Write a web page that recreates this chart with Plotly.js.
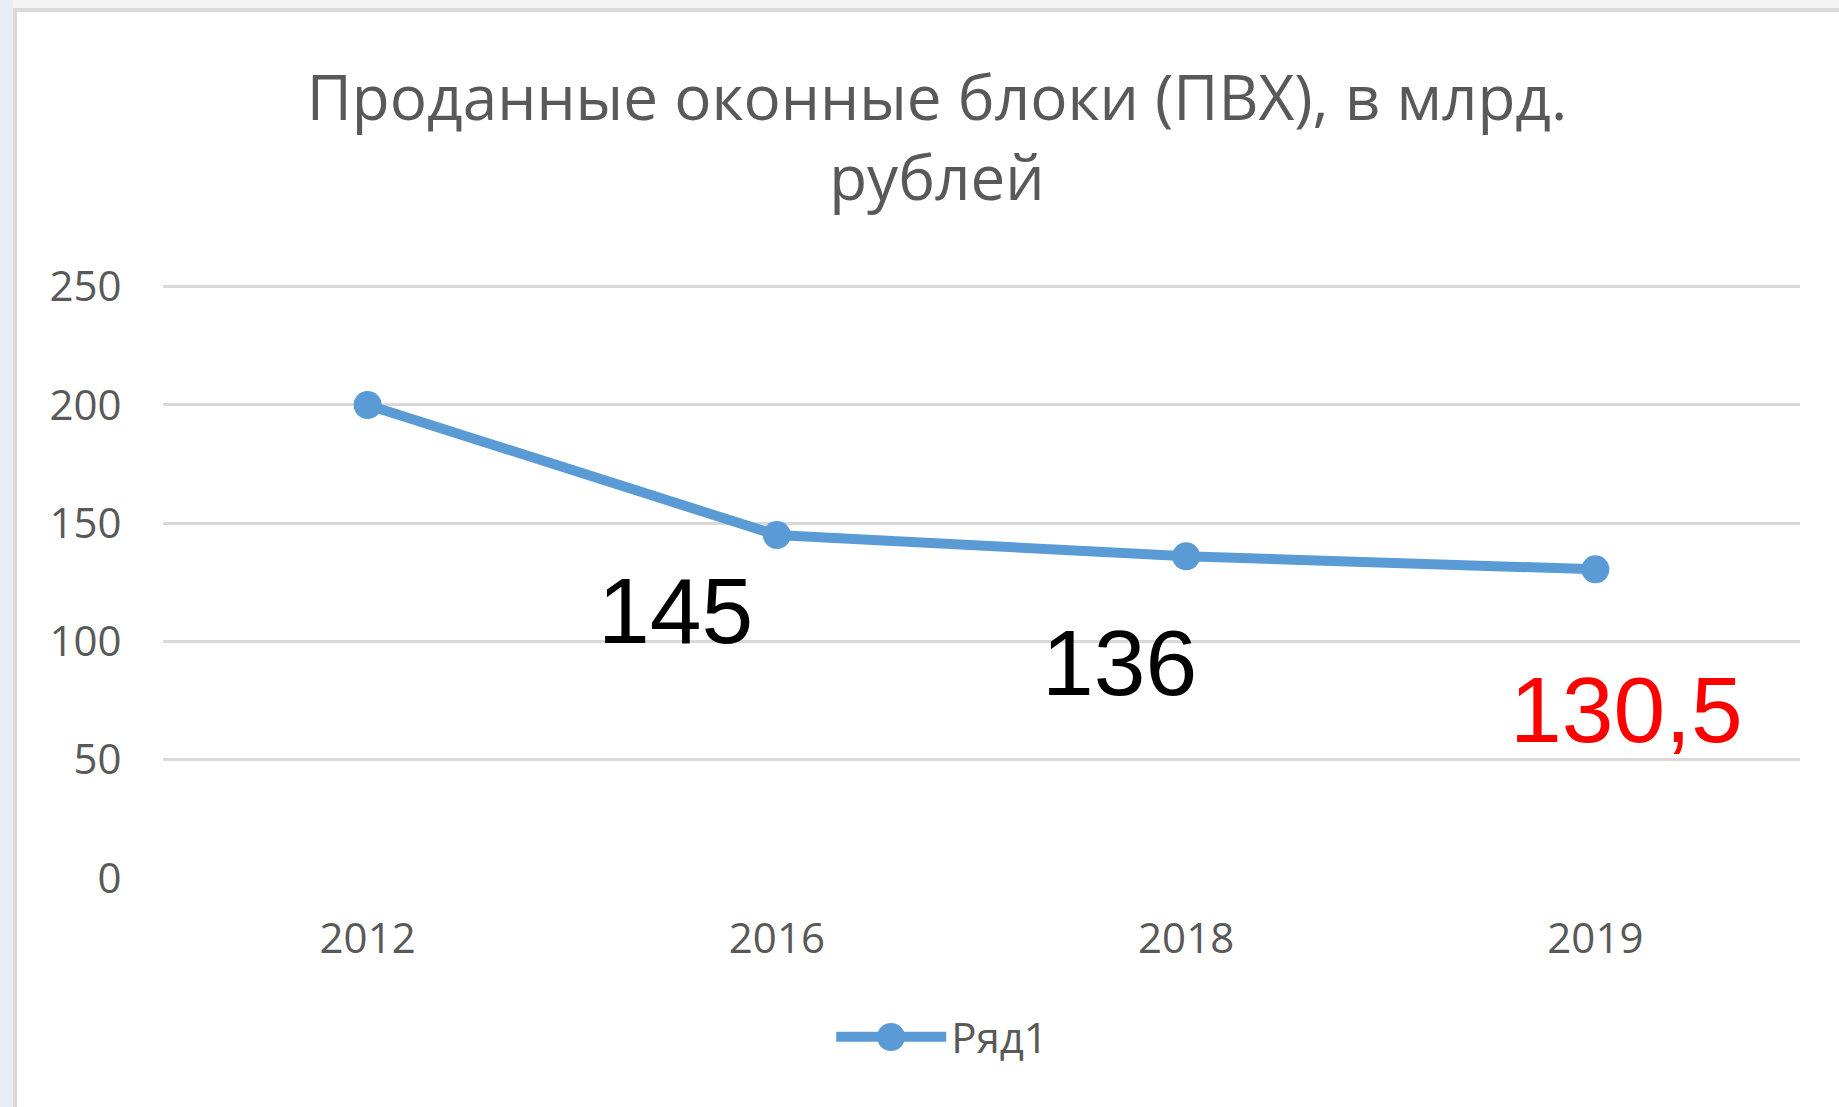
<!DOCTYPE html>
<html>
<head>
<meta charset="utf-8">
<script src="https://cdn.plot.ly/plotly-3.0.1.min.js"></script>
<style>
  html, body { margin: 0; padding: 0; width: 1839px; height: 1107px; overflow: hidden; background: #e7ecf5; }
  #topstrip { position: absolute; left: 13px; top: 0; width: 1826px; height: 8px; background: #f3f3f3; }
  #frame { position: absolute; left: 13px; top: 8px; width: 1822px; height: 1095px; background: #ffffff;
           border-left: 4px solid #d9d9d9; border-top: 4px solid #d9d9d9; }
  #chart { position: absolute; left: 0; top: 0; width: 1839px; height: 1107px; }
</style>
</head>
<body>
<div id="topstrip"></div>
<div id="frame"></div>
<div id="chart"></div>
<script>
const titleText = 'Проданные оконные блоки (ПВХ), в млрд.<br>рублей';
const seriesName = 'Ряд1';
const years = ['2012', '2016', '2018', '2019'];
const values = [200, 145, 136, 130.5];
const yTicks = [0, 50, 100, 150, 200, 250];

// data labels shown in the chart (index into years/values), with their text
const labelIndex = [1, 2, 3];
const labelText = ['145', '136', '130,5'];
const labelColor = ['#000000', '#000000', '#ff0000'];
const labelShiftX = [-101, -67, 31];
const labelShiftY = [-76, -107, -141];

const trace = {
  type: 'scatter',
  mode: 'lines+markers',
  name: seriesName,
  x: years,
  y: values,
  line: { color: '#5b9bd5', width: 10 },
  marker: { color: '#5b9bd5', size: 28 },
  hoverinfo: 'x+y'
};

const annotations = labelIndex.map((idx, i) => ({
  x: idx,
  y: values[idx],
  xref: 'x', yref: 'y',
  text: labelText[i],
  showarrow: false,
  xanchor: 'center', yanchor: 'middle',
  xshift: labelShiftX[i],
  yshift: labelShiftY[i],
  font: { family: 'Liberation Sans', size: 93, color: labelColor[i] }
}));

// plot area geometry (px) used only to place the legend marker overlay
const PL = 163, PW = 1637, PT = 282, PH = 596;
const legMarkX = 891, legMarkY = 1037, legMarkR = 14;

const layout = {
  width: 1839,
  height: 1107,
  paper_bgcolor: 'rgba(0,0,0,0)',
  plot_bgcolor: 'rgba(0,0,0,0)',
  margin: { l: PL, r: 1839 - PL - PW, t: PT, b: 1107 - PT - PH, pad: 0 },
  title: {
    text: titleText,
    font: { family: 'Open Sans, sans-serif', size: 62, color: '#595959' },
    x: 0.5095, xref: 'container', xanchor: 'center',
    y: 0.892, yref: 'container', yanchor: 'top'
  },
  xaxis: {
    type: 'category',
    range: [-0.5, 3.5],
    showgrid: false,
    zeroline: false,
    showline: false,
    ticks: 'outside', ticklen: 24, tickcolor: 'rgba(0,0,0,0)',
    tickfont: { family: 'Open Sans, sans-serif', size: 42, color: '#595959' },
    fixedrange: true
  },
  yaxis: {
    range: [0, 252],
    tickvals: yTicks,
    ticktext: yTicks.map(String),
    showgrid: true,
    gridcolor: '#d9d9d9',
    gridwidth: 3,
    zeroline: false,
    showline: false,
    ticks: 'outside', ticklen: 32, tickcolor: 'rgba(0,0,0,0)',
    tickfont: { family: 'Open Sans, sans-serif', size: 42, color: '#595959' },
    fixedrange: true
  },
  showlegend: true,
  legend: {
    orientation: 'h',
    x: 0.476, xanchor: 'center',
    y: (PT + PH - 1037) / PH, yanchor: 'middle',
    itemwidth: 110,
    font: { family: 'Open Sans, sans-serif', size: 42, color: '#595959' },
    bgcolor: 'rgba(0,0,0,0)'
  },
  shapes: [{
    type: 'circle', xref: 'paper', yref: 'paper',
    x0: (legMarkX - legMarkR - PL) / PW, x1: (legMarkX + legMarkR - PL) / PW,
    y0: (PT + PH - legMarkY - legMarkR) / PH, y1: (PT + PH - legMarkY + legMarkR) / PH,
    fillcolor: '#5b9bd5', line: { width: 0 }, layer: 'above'
  }],
  annotations: annotations
};

Plotly.newPlot('chart', [trace], layout, { displayModeBar: false, staticPlot: true });
</script>
</body>
</html>
